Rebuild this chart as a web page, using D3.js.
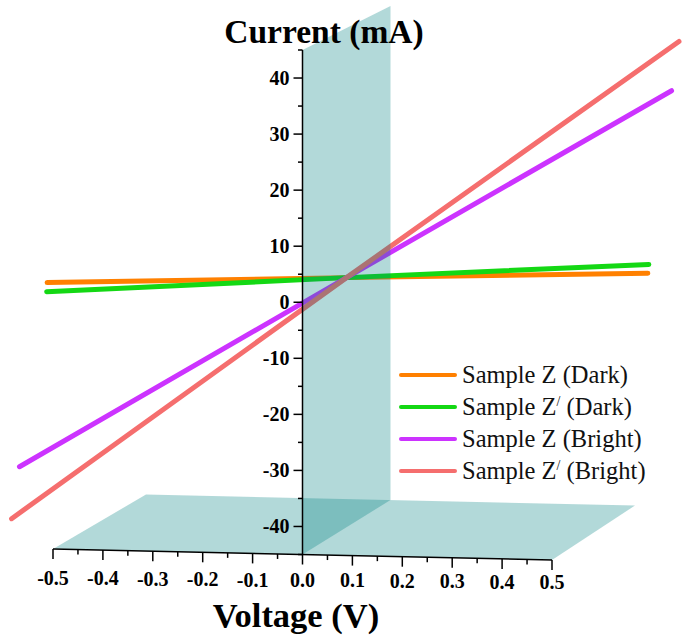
<!DOCTYPE html>
<html>
<head>
<meta charset="utf-8">
<script src="https://cdn.jsdelivr.net/npm/d3@7"></script>
<style>
  html, body { margin: 0; padding: 0; background: #fff; }
  svg { display: block; }
</style>
</head>
<body>
<svg id="chart" width="685" height="642"></svg>
<script>
// ---- data ----
const seriesNames = ["Sample Z (Dark)", "Sample Z/ (Dark)", "Sample Z (Bright)", "Sample Z/ (Bright)"];
const seriesColors = ["#ff8000", "#14d814", "#cc33ff", "#f56e6e"];
const orangeV = [-0.606, 0, 0.610];
const orangeI = [-2.1, 0, 2.0];
const greenV = [-0.607, 0, 0.612];
const greenI = [-3.75, 0, 3.6];
const purpleV = [-0.662, 0, 0.658];
const purpleI = [-35.4, 0, 35.0];
const redV = [-0.678, 0, 0.673];
const redI = [-44.8, 0, 43.9];
const xTickValues = [-0.5, -0.4, -0.3, -0.2, -0.1, 0.0, 0.1, 0.2, 0.3, 0.4, 0.5];
const zTickValues = [-40, -30, -20, -10, 0, 10, 20, 30, 40];

const seriesV = [orangeV, greenV, purpleV, redV];
const seriesI = [orangeI, greenI, purpleI, redI];

// ---- scales (front plane and back plane of the 3D box) ----
const xFront = d3.scaleLinear().domain([-0.5, 0.5]).range([53, 552]);
const xBack  = d3.scaleLinear().domain([-0.5, 0.5]).range([146, 635]);
const yFront = d3.scaleLinear().domain([-45, 45]).range([554.5, 50]);
const yBack  = d3.scaleLinear().domain([-45, 45]).range([500, 6]);
const slant  = d3.scaleLinear().domain([-0.5, 0.5]).range([-5.5, 5.5]);

function proj(v, i, d) {
  const x = xFront(v) * (1 - d) + xBack(v) * d;
  const y = yFront(i) * (1 - d) + yBack(i) * d + slant(v);
  return [x, y];
}

const svg = d3.select("#chart");
const teal = "#008080";
const planeOpacity = 0.3;
const serif = "'Liberation Serif', 'Times New Roman', serif";

// floor plane (I = -45)
const floorPts = [proj(-0.5, -45, 0), proj(0.5, -45, 0), proj(0.5, -45, 1), proj(-0.5, -45, 1)];
svg.append("polygon")
  .attr("points", floorPts.map(p => p.join(",")).join(" "))
  .attr("fill", teal).attr("fill-opacity", planeOpacity);

// data lines in the middle depth plane
const line = d3.line().x(d => d[0]).y(d => d[1]);
seriesV.forEach((vs, k) => {
  const pts = vs.map((v, j) => proj(v, seriesI[k][j], 0.5));
  svg.append("path")
    .attr("d", line(pts))
    .attr("fill", "none")
    .attr("stroke", seriesColors[k])
    .attr("stroke-width", 5)
    .attr("stroke-linecap", "round");
});

// vertical plane (V = 0)
const wallPts = [proj(0, -45, 0), proj(0, 45, 0), proj(0, 45, 1), proj(0, -45, 1)];
svg.append("polygon")
  .attr("points", wallPts.map(p => p.join(",")).join(" "))
  .attr("fill", teal).attr("fill-opacity", planeOpacity);

// ---- Z (current) axis ----
const zx = xFront(0);
const zAxis = svg.append("g");
zAxis.append("line")
  .attr("x1", zx).attr("x2", zx)
  .attr("y1", yFront(45)).attr("y2", yFront(-45))
  .attr("stroke", "#000").attr("stroke-width", 1.5);
d3.range(-45, 46, 5).forEach(t => {
  const major = t % 10 === 0;
  zAxis.append("line")
    .attr("x1", zx - (major ? 9 : 4.5)).attr("x2", zx)
    .attr("y1", yFront(t)).attr("y2", yFront(t))
    .attr("stroke", "#000").attr("stroke-width", 1.5);
});
zTickValues.forEach(t => {
  zAxis.append("text")
    .attr("x", zx - 13).attr("y", yFront(t))
    .attr("dy", "0.35em")
    .attr("text-anchor", "end")
    .attr("font-family", serif).attr("font-weight", "bold").attr("font-size", 20)
    .text(t);
});

// ---- X (voltage) axis ----
const xAxis = svg.append("g");
const a0 = proj(-0.5, -45, 0), a1 = proj(0.5, -45, 0);
xAxis.append("line")
  .attr("x1", a0[0]).attr("y1", a0[1]).attr("x2", a1[0]).attr("y2", a1[1])
  .attr("stroke", "#000").attr("stroke-width", 1.5);
d3.range(0, 21).map(k => -0.5 + k * 0.05).forEach((v, k) => {
  const p = proj(v, -45, 0);
  const major = k % 2 === 0;
  xAxis.append("line")
    .attr("x1", p[0]).attr("x2", p[0])
    .attr("y1", p[1]).attr("y2", p[1] + (major ? 10 : 5))
    .attr("stroke", "#000").attr("stroke-width", 1.5);
});
const labelY = d3.scaleLinear().domain([-0.5, 0.5]).range([585, 589]);
xTickValues.forEach(v => {
  xAxis.append("text")
    .attr("x", xFront(v)).attr("y", labelY(v))
    .attr("text-anchor", "middle")
    .attr("font-family", serif).attr("font-weight", "bold").attr("font-size", 20)
    .text(v.toFixed(1));
});

// ---- titles ----
svg.append("text")
  .attr("x", 324).attr("y", 43)
  .attr("text-anchor", "middle")
  .attr("font-family", serif).attr("font-weight", "bold").attr("font-size", 33.5)
  .text("Current (mA)");
svg.append("text")
  .attr("x", 296).attr("y", 627)
  .attr("text-anchor", "middle")
  .attr("font-family", serif).attr("font-weight", "bold").attr("font-size", 34.5)
  .text("Voltage (V)");

// ---- legend ----
const legendRowY = d3.scaleLinear().domain([0, 3]).range([375, 471]);
seriesNames.forEach((name, k) => {
  const y = legendRowY(k);
  svg.append("line")
    .attr("x1", 401).attr("x2", 455)
    .attr("y1", y).attr("y2", y)
    .attr("stroke", seriesColors[k]).attr("stroke-width", 4)
    .attr("stroke-linecap", "round");
  const t = svg.append("text")
    .attr("x", 462).attr("y", y + 8)
    .attr("font-family", serif).attr("font-size", 24.5)
    .attr("fill", "#111");
  const parts = name.split("/");
  if (parts.length === 2) {
    t.append("tspan").text(parts[0]);
    t.append("tspan").attr("font-size", 14).attr("dy", -9).text("/");
    t.append("tspan").attr("dy", 9).text(parts[1]);
  } else {
    t.text(name);
  }
});
</script>
</body>
</html>
